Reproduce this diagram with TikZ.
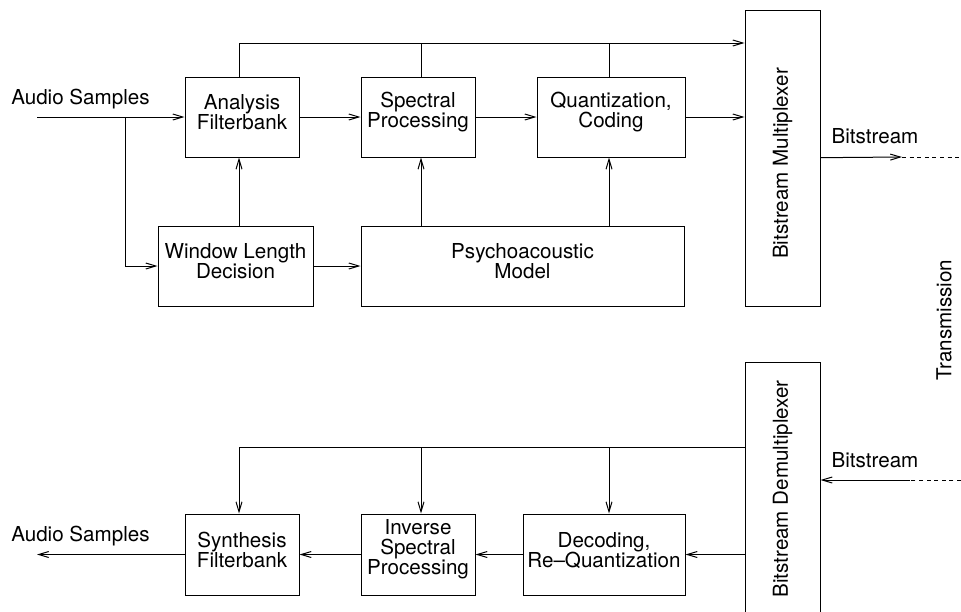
\documentclass[tikz,border=0pt]{standalone}
\usepackage{fontspec}
\setmainfont{TeX Gyre Heros}
\usetikzlibrary{positioning,arrows.meta}

\tikzset{
  estilo diagrama/.style={
      x=0.5pt, y=-0.5pt,
      node distance=30.5pt,
      bloque/.style={rectangle, draw, align=center, inner sep=1pt, line width=0.5pt,
          minimum width=57pt, minimum height=40pt, text depth=5pt},
      cola/.style={text depth=7.2pt},
      flecha/.style={-{Straight Barb[length=5pt,width=3pt]}, line width=0.5pt},
      linea/.style={line width=0.5pt},
      discontinua/.style={line width=0.5pt, dash pattern=on 2pt off 1.8pt},
      every node/.style={font={\fontsize{10.3}{10}\selectfont}},
    },
}

\begin{document}
\begin{tikzpicture}[estilo diagrama]
    \useasboundingbox (0,0) rectangle (961,611);

    % codificador
    \node[bloque] (af) at (242,117) {Analysis\\Filterbank};
    \node[bloque, cola, right=of af] (sp) {Spectral\\Processing};
    \node[bloque, cola, right=of sp, minimum width=74pt] (qc) {Quantization,\\Coding};
    \node[bloque, below=34pt of af, xshift=-3.25pt, minimum width=77.5pt] (wl) {Window Length\\Decision};
    \node[bloque, below=34pt of sp.south west, anchor=north west, minimum width=161.5pt] (ps) {Psychoacoustic\\Model};
    \node[bloque, right=30pt of ps.south east, anchor=south west, minimum width=37.5pt, minimum height=148pt] (mux) {};
    \node[rotate=90, xshift=-2.75pt] (muxtxt) at (mux) {Bitstream Multiplexer};

    % decodificador
    \node[bloque, minimum height=40.5pt] (sf) at (242,554.5) {Synthesis\\Filterbank};
    \node[bloque, cola, right=of sf, minimum height=40.5pt] (is) {Inverse\\Spectral\\Processing};
    \node[bloque, right=23.5pt of is, minimum width=81pt, minimum height=40.5pt] (dq) {Decoding,\\Re--Quantization};
    \node[bloque, below=27.5pt of mux, minimum width=37.5pt, minimum height=127pt] (dmx) {};
    \node[rotate=90] (dmxtxt) at (dmx) {Bitstream Demultiplexer};

    % textos sueltos
    \node[anchor=base] (audin) at (80.5,104) {Audio Samples};
    \node[anchor=base] (audout) at (80.5,541) {Audio Samples};
    \node[anchor=base] (bsout) at (875,143) {Bitstream};
    \node[anchor=base] (bsin) at (875,467) {Bitstream};
    \node[rotate=90] (trans) at (944,320) {Transmission};

    % puntos de apoyo
    \coordinate (c1) at (239,0);
    \coordinate (c2) at (421,0);
    \coordinate (c3) at (609,0);
    \coordinate (bus) at (0,43);
    \coordinate (bus2) at (0,447);
    \coordinate (ent) at (37,117);
    \coordinate (ram) at (125,117);
    \coordinate (sal) at (902,157);
    \coordinate (fin) at (961,157);
    \coordinate (sal2) at (37,554);
    \coordinate (ent2) at (910,480);
    \coordinate (ini2) at (961,480);

    \draw[flecha] (ent) -- (af);
    \draw[flecha] (ram) |- (wl);
    \draw[flecha] (af) -- (sp);
    \draw[flecha] (sp) -- (qc);
    \draw[flecha] (qc) -- (qc -| mux.west);
    \draw[flecha] (wl) -- (ps);
    \draw[flecha] (wl.north -| c1) -- (af.south -| c1);
    \draw[flecha] (ps.north -| c2) -- (sp.south -| c2);
    \draw[flecha] (ps.north -| c3) -- (qc.south -| c3);
    \draw[flecha] (af.north -| c1) |- (mux.west |- bus);
    \draw[linea] (sp.north -| c2) -- (bus -| c2);
    \draw[linea] (qc.north -| c3) -- (bus -| c3);
    \draw[flecha] (mux) -- (sal);
    \draw[discontinua] (sal) -- (fin);

    \draw[flecha] (dmx.west |- bus2) -| (sf.north -| c1);
    \draw[flecha] (bus2 -| c2) -- (is.north -| c2);
    \draw[flecha] (bus2 -| c3) -- (dq.north -| c3);
    \draw[flecha] (dmx.west |- dq) -- (dq);
    \draw[flecha] (dq) -- (is);
    \draw[flecha] (is) -- (sf);
    \draw[flecha] (sf) -- (sf -| sal2);
    \draw[discontinua] (ini2) -- (ent2);
    \draw[flecha] (ent2) -- (ent2 -| dmx.east);
  \end{tikzpicture}
\end{document}
